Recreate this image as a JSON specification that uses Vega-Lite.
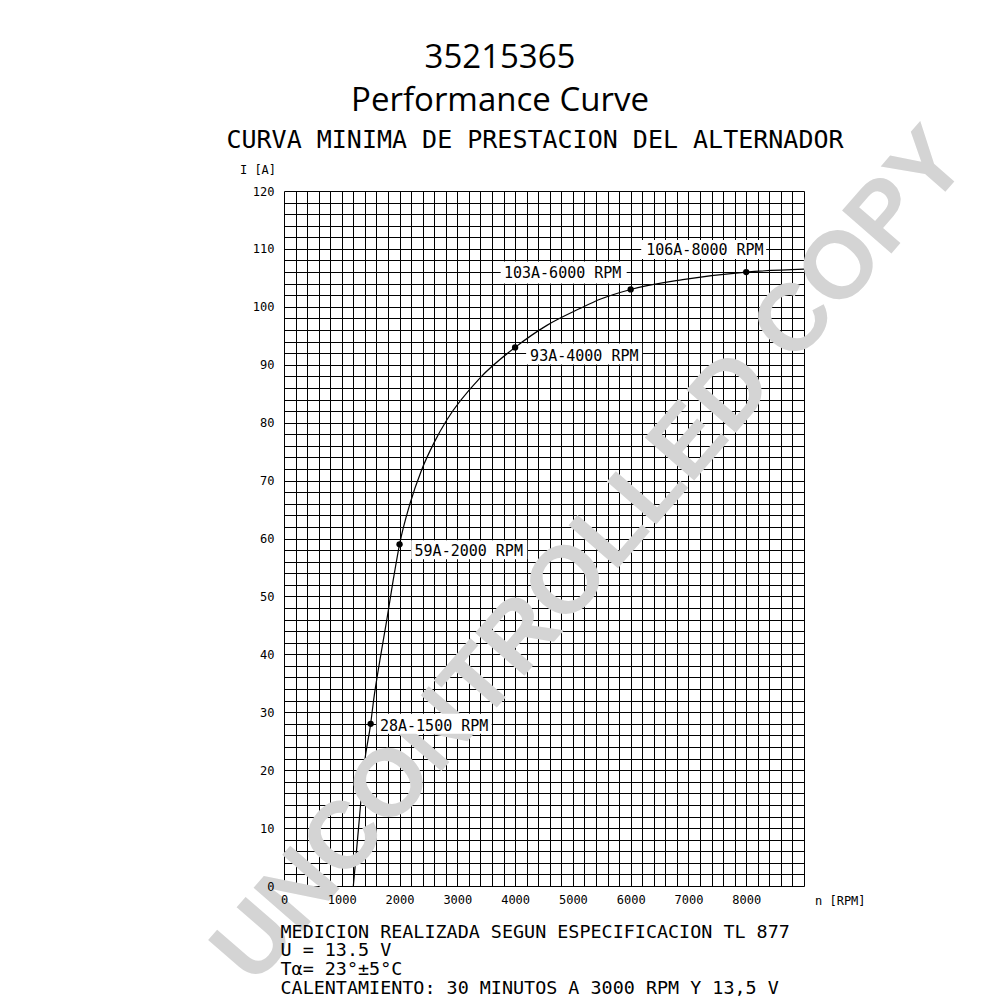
{
  "$schema": "https://vega.github.io/schema/vega-lite/v6.json",
  "width": 520,
  "height": 695,
  "autosize": {"type": "none"},
  "padding": {"left": 284, "top": 191, "right": 196, "bottom": 114},
  "background": "white",
  "config": {"view": {"stroke": null}, "font": "DejaVu Sans Mono"},
  "title": {
    "text": ["35215365", "Performance Curve"],
    "font": "Open Sans",
    "fontSize": 33,
    "fontWeight": "normal",
    "color": "black",
    "lineHeight": 43,
    "anchor": "middle",
    "frame": "group",
    "dx": -44,
    "dy": 15,
    "offset": 10
  },
  "datasets": {
    "curve": [
      {"rpm": 1200, "amp": 0}, {"rpm": 1290, "amp": 10}, {"rpm": 1390, "amp": 21},
      {"rpm": 1500, "amp": 28}, {"rpm": 1550, "amp": 32}, {"rpm": 1660, "amp": 39},
      {"rpm": 1780, "amp": 46}, {"rpm": 1890, "amp": 52.8}, {"rpm": 2000, "amp": 59},
      {"rpm": 2180, "amp": 66}, {"rpm": 2380, "amp": 71.8}, {"rpm": 2600, "amp": 76.6},
      {"rpm": 2820, "amp": 80.5}, {"rpm": 3390, "amp": 87.7}, {"rpm": 4000, "amp": 93},
      {"rpm": 4550, "amp": 96.8}, {"rpm": 5120, "amp": 99.7}, {"rpm": 5470, "amp": 101.3},
      {"rpm": 6000, "amp": 103}, {"rpm": 6900, "amp": 104.7}, {"rpm": 8000, "amp": 106},
      {"rpm": 9000, "amp": 106.5}
    ],
    "points": [
      {"rpm": 1500, "amp": 28, "label": "28A-1500 RPM"},
      {"rpm": 2000, "amp": 59, "label": "59A-2000 RPM"},
      {"rpm": 4000, "amp": 93, "label": "93A-4000 RPM"},
      {"rpm": 6000, "amp": 103, "label": "103A-6000 RPM"},
      {"rpm": 8000, "amp": 106, "label": "106A-8000 RPM"}
    ],
    "watermark": [{"rpm": 5300, "amp": 57.0, "text": "UNCONTROLLED COPY"}],
    "unit": [{"rpm": 9000, "amp": 0, "text": "n [RPM]"}],
    "subtitle": [{"rpm": 4344, "amp": 120, "text": "CURVA MINIMA DE PRESTACION DEL ALTERNADOR"}]
  },
  "resolve": {"axis": {"x": "independent", "y": "independent"}},
  "encoding": {
    "x": {"field": "rpm", "type": "quantitative", "scale": {"domain": [0, 9000], "nice": false}, "axis": null},
    "y": {"field": "amp", "type": "quantitative", "scale": {"domain": [0, 120], "nice": false}, "axis": null}
  },
  "layer": [
    {
      "data": {"name": "curve"},
      "mark": {"type": "line", "interpolate": "monotone", "color": "black", "strokeWidth": 1.2},
      "encoding": {
        "x": {
          "field": "rpm", "type": "quantitative",
          "axis": {
            "orient": "bottom",
            "values": [0,200,400,600,800,1000,1200,1400,1600,1800,2000,2200,2400,2600,2800,3000,3200,3400,3600,3800,4000,4200,4400,4600,4800,5000,5200,5400,5600,5800,6000,6200,6400,6600,6800,7000,7200,7400,7600,7800,8000,8200,8400,8600,8800,9000],
            "grid": true, "gridColor": "black", "gridOpacity": 1, "gridWidth": 1,
            "domain": false, "ticks": false, "labels": false, "title": null, "zindex": 0
          }
        },
        "y": {
          "field": "amp", "type": "quantitative",
          "axis": {
            "orient": "left",
            "values": [0,2,4,6,8,10,12,14,16,18,20,22,24,26,28,30,32,34,36,38,40,42,44,46,48,50,52,54,56,58,60,62,64,66,68,70,72,74,76,78,80,82,84,86,88,90,92,94,96,98,100,102,104,106,108,110,112,114,116,118,120],
            "grid": true, "gridColor": "black", "gridOpacity": 1, "gridWidth": 1,
            "domain": false, "ticks": false, "labels": false, "title": null, "zindex": 0, "minExtent": 0
          }
        }
      }
    },
    {
      "data": {"name": "watermark"},
      "mark": {"type": "text", "align": "center", "baseline": "middle", "angle": -49, "font": "Liberation Sans", "fontWeight": "bold", "fontSize": 95, "color": "#d4d4d4"},
      "encoding": {"text": {"field": "text"}}
    },
    {
      "data": {"name": "points"},
      "mark": {"type": "point", "filled": true, "color": "black", "size": 40, "opacity": 1}
    },
    {
      "data": {"name": "points"},
      "transform": [{"filter": "datum.label === '28A-1500 RPM'"}],
      "layer": [
        {"mark": {"type": "rect", "color": "white", "xOffset": 6, "x2Offset": 121, "yOffset": -10, "y2Offset": 10},
         "encoding": {"x2": {"field": "rpm"}, "y2": {"field": "amp"}}},
        {"mark": {"type": "text", "align": "left", "baseline": "middle", "dx": 9.3, "dy": 1.7, "font": "DejaVu Sans Mono", "fontSize": 15, "color": "black"},
         "encoding": {"text": {"field": "label"}}}
      ]
    },
    {
      "data": {"name": "points"},
      "transform": [{"filter": "datum.label === '59A-2000 RPM'"}],
      "layer": [
        {"mark": {"type": "rect", "color": "white", "xOffset": 11.7, "x2Offset": 127.7, "yOffset": -4, "y2Offset": 15},
         "encoding": {"x2": {"field": "rpm"}, "y2": {"field": "amp"}}},
        {"mark": {"type": "text", "align": "left", "baseline": "middle", "dx": 15, "dy": 6.7, "font": "DejaVu Sans Mono", "fontSize": 15, "color": "black"},
         "encoding": {"text": {"field": "label"}}}
      ]
    },
    {
      "data": {"name": "points"},
      "transform": [{"filter": "datum.label === '93A-4000 RPM'"}],
      "layer": [
        {"mark": {"type": "rect", "color": "white", "xOffset": 11, "x2Offset": 127, "yOffset": -4, "y2Offset": 17},
         "encoding": {"x2": {"field": "rpm"}, "y2": {"field": "amp"}}},
        {"mark": {"type": "text", "align": "left", "baseline": "middle", "dx": 15, "dy": 8.4, "font": "DejaVu Sans Mono", "fontSize": 15, "color": "black"},
         "encoding": {"text": {"field": "label"}}}
      ]
    },
    {
      "data": {"name": "points"},
      "transform": [{"filter": "datum.label === '103A-6000 RPM'"}],
      "layer": [
        {"mark": {"type": "rect", "color": "white", "xOffset": -130, "x2Offset": -4, "yOffset": -28, "y2Offset": -6},
         "encoding": {"x2": {"field": "rpm"}, "y2": {"field": "amp"}}},
        {"mark": {"type": "text", "align": "left", "baseline": "middle", "dx": -126.7, "dy": -16.7, "font": "DejaVu Sans Mono", "fontSize": 15, "color": "black"},
         "encoding": {"text": {"field": "label"}}}
      ]
    },
    {
      "data": {"name": "points"},
      "transform": [{"filter": "datum.label === '106A-8000 RPM'"}],
      "layer": [
        {"mark": {"type": "rect", "color": "white", "xOffset": -105, "x2Offset": 20, "yOffset": -32, "y2Offset": -13},
         "encoding": {"x2": {"field": "rpm"}, "y2": {"field": "amp"}}},
        {"mark": {"type": "text", "align": "left", "baseline": "middle", "dx": -100, "dy": -22.4, "font": "DejaVu Sans Mono", "fontSize": 15, "color": "black"},
         "encoding": {"text": {"field": "label"}}}
      ]
    },
    {
      "data": {"name": "unit"},
      "mark": {"type": "text", "align": "left", "baseline": "middle", "dx": 11, "dy": 15, "font": "DejaVu Sans Mono", "fontSize": 12, "color": "black"},
      "encoding": {
        "text": {"field": "text"},
        "x": {
          "field": "rpm", "type": "quantitative",
          "axis": {
            "orient": "bottom",
            "values": [0,1000,2000,3000,4000,5000,6000,7000,8000],
            "grid": false, "domain": false, "ticks": false, "tickSize": 0,
            "format": "d",
            "labelFont": "DejaVu Sans Mono", "labelFontSize": 12, "labelColor": "black",
            "labelPadding": 8, "labelOverlap": false, "labelFlush": false, "labelBound": false,
            "labelAngle": 0, "labelBaseline": "top",
            "title": ["MEDICION REALIZADA SEGUN ESPECIFICACION TL 877", "U = 13.5 V", "Tα= 23°±5°C", "CALENTAMIENTO: 30 MINUTOS A 3000 RPM Y 13,5 V"],
            "titleFont": "DejaVu Sans Mono", "titleFontSize": 18.4, "titleFontWeight": "normal", "titleColor": "black",
            "titleAlign": "left", "titleAnchor": "start", "titleX": -4, "titleY": 51,
            "titleBaseline": "alphabetic", "titleLineHeight": 18.7,
            "zindex": 1
          }
        },
        "y": {
          "field": "amp", "type": "quantitative",
          "axis": {
            "orient": "left",
            "values": [0,10,20,30,40,50,60,70,80,90,100,110,120],
            "grid": false, "domain": false, "ticks": false, "tickSize": 0,
            "labelFont": "DejaVu Sans Mono", "labelFontSize": 12, "labelColor": "black",
            "labelPadding": 10, "labelOverlap": false, "labelFlush": false, "labelBound": false,
            "labelBaseline": "middle",
            "title": "I [A]", "titleAngle": 0, "titleX": -26.5, "titleY": -21.5,
            "titleAlign": "center", "titleBaseline": "middle",
            "titleFont": "DejaVu Sans Mono", "titleFontSize": 12, "titleFontWeight": "normal", "titleColor": "black",
            "zindex": 1
          }
        }
      }
    },
    {
      "data": {"name": "subtitle"},
      "mark": {"type": "text", "align": "center", "baseline": "middle", "dy": -51.5, "font": "DejaVu Sans Mono", "fontSize": 25, "color": "black"},
      "encoding": {"text": {"field": "text"}}
    }
  ]
}
